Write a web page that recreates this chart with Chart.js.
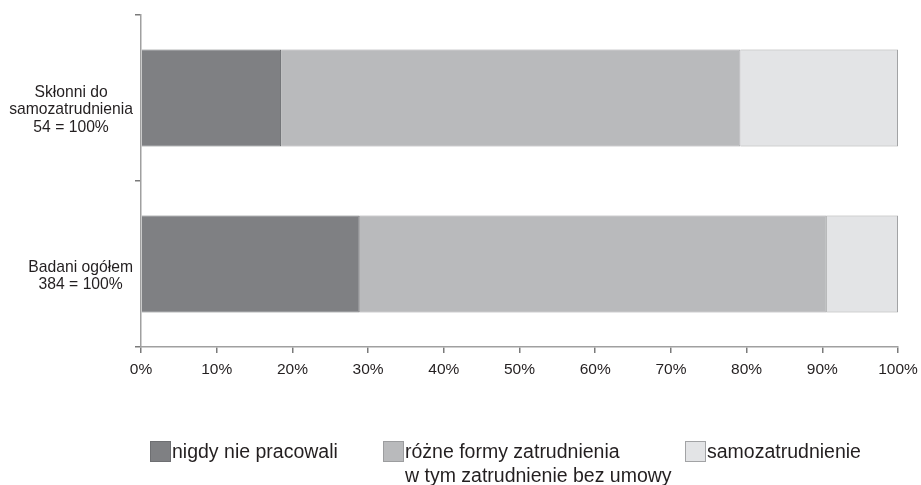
<!DOCTYPE html>
<html>
<head>
<meta charset="utf-8">
<script src="https://cdn.jsdelivr.net/npm/chart.js@4/dist/chart.umd.min.js"></script>
<style>
html,body{margin:0;padding:0;background:#fff;}
#c{display:block;}
</style>
</head>
<body>
<canvas id="c" width="921" height="485"></canvas>
<script>
// ---- data ----
const categories = [["Skłonni do", "samozatrudnienia", "54 = 100%"], ["Badani ogółem", "384 = 100%"]];
const seriesNames = ["nigdy nie pracowali", ["różne formy zatrudnienia", "w tym zatrudnienie bez umowy"], "samozatrudnienie"];
const nigdyNiePracowali = [18.5, 28.9];
const rozneFormy = [60.7, 61.7];
const samozatrudnienie = [20.8, 9.4];
const xTickValues = [0, 10, 20, 30, 40, 50, 60, 70, 80, 90, 100];
const xTickLabels = ["0%", "10%", "20%", "30%", "40%", "50%", "60%", "70%", "80%", "90%", "100%"];

const FONT = '"Liberation Sans", Arial, sans-serif';
const TEXT = '#231f20';

const catLabelPlugin = {
  id: 'catLabels',
  afterDraw(chart) {
    const sc = chart.scales.y;
    const ctx = chart.ctx;
    ctx.save();
    ctx.font = '15.7px ' + FONT;
    ctx.fillStyle = TEXT;
    ctx.textAlign = 'center';
    ctx.textBaseline = 'middle';
    const lh = 17.5;
    sc.getLabels().forEach((lines, i) => {
      const arr = Array.isArray(lines) ? lines : [lines];
      const w = Math.max(...arr.map(s => ctx.measureText(s).width));
      const right = sc.right - 8;
      const cx = right - w / 2;
      const cy = sc.getPixelForTick(i) + 12;
      arr.forEach((s, j) => ctx.fillText(s, cx, cy + (j - (arr.length - 1) / 2) * lh));
    });
    ctx.restore();
  }
};

const legendPlugin = {
  id: 'customLegend',
  afterDraw(chart, args, opts) {
    const ctx = chart.ctx;
    ctx.save();
    ctx.font = '19.5px ' + FONT;
    ctx.textBaseline = 'middle';
    ctx.textAlign = 'left';
    chart.data.datasets.forEach((ds, i) => {
      const x = opts.xs[i];
      const y = opts.y;
      ctx.fillStyle = ds.backgroundColor;
      ctx.fillRect(x, y, opts.box, opts.box);
      ctx.strokeStyle = ds.borderColor;
      ctx.lineWidth = 1;
      ctx.strokeRect(x + 0.5, y + 0.5, opts.box - 1, opts.box - 1);
      ctx.fillStyle = TEXT;
      const lines = Array.isArray(ds.label) ? ds.label : [ds.label];
      lines.forEach((s, j) => ctx.fillText(s, x + opts.box + 1, y + opts.box / 2 + 1 + j * opts.lh));
    });
    ctx.restore();
  }
};

new Chart(document.getElementById('c'), {
  type: 'bar',
  data: {
    labels: categories,
    datasets: [
      { label: seriesNames[0], data: nigdyNiePracowali, backgroundColor: '#7f8083', borderColor: '#6e6f72' },
      { label: seriesNames[1], data: rozneFormy, backgroundColor: '#b9babc', borderColor: '#9c9d9f' },
      { label: seriesNames[2], data: samozatrudnienie, backgroundColor: '#e3e4e6', borderColor: '#a2a3a5' }
    ]
  },
  options: {
    indexAxis: 'y',
    responsive: false,
    animation: false,
    datasets: { bar: { borderWidth: 1, barPercentage: 1, categoryPercentage: 0.585 } },
    layout: { padding: { top: 15, right: 23, bottom: 0, left: 0 } },
    plugins: {
      legend: { display: false },
      tooltip: { enabled: false },
      customLegend: { xs: [150, 383, 685], y: 441, box: 21, lh: 24 }
    },
    scales: {
      x: {
        stacked: true,
        min: 0, max: 100,
        afterBuildTicks(scale) { scale.ticks = xTickValues.map(v => ({ value: v })); },
        afterFit(scale) { scale.height = 138; scale.paddingLeft = 0; scale.paddingRight = 0; },
        ticks: {
          callback: (v, i) => xTickLabels[i],
          font: { size: 15.5, family: FONT },
          color: TEXT,
          padding: 7,
          maxRotation: 0,
          autoSkip: false
        },
        grid: { drawOnChartArea: false, drawTicks: true, tickLength: 6, color: '#7a7a7a', lineWidth: 1.5 },
        border: { display: true, color: '#a0a0a0', width: 1.5 }
      },
      y: {
        stacked: true,
        afterFit(scale) { scale.width = 141; },
        ticks: { display: false },
        grid: { drawOnChartArea: false, drawTicks: true, tickLength: 6, color: '#7a7a7a', lineWidth: 1.5, offset: true },
        border: { display: true, color: '#a0a0a0', width: 1.5 }
      }
    }
  },
  plugins: [catLabelPlugin, legendPlugin]
});
</script>
</body>
</html>
